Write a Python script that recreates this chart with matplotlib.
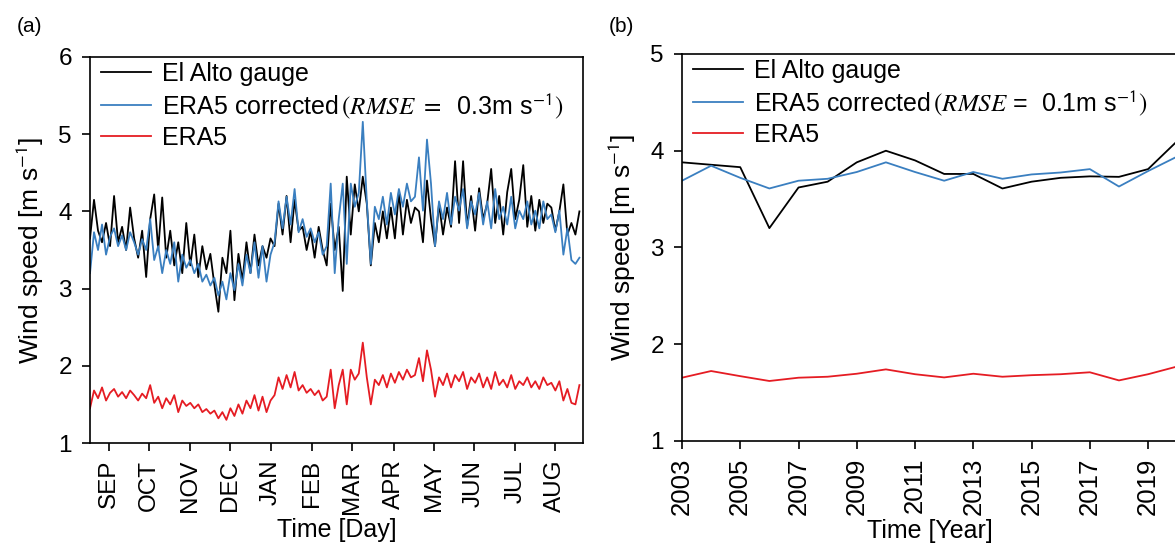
import numpy as np
import matplotlib
matplotlib.use('Agg')
import matplotlib.pyplot as plt

plt.rcParams['font.family'] = ['Liberation Sans', 'DejaVu Sans']
plt.rcParams['mathtext.fontset'] = 'stix'

# ---- panel (a): daily climatology, sampled every 3 days from 16 Aug ----
days = np.arange(0, 367, 3)
gauge_day = [
    3.65, 4.15, 3.75, 3.60, 3.85, 3.55, 4.20, 3.60, 3.80, 3.50, 4.05, 3.65, 3.40, 3.75, 3.15,
    3.90, 4.22, 3.50, 4.18, 3.40, 3.75, 3.30, 3.60, 3.20, 3.85,
    3.30, 3.70, 3.15, 3.55, 3.25, 3.45, 3.05, 2.70, 3.40, 3.20,
    3.75, 2.85, 3.45, 3.10, 3.60, 3.20, 3.70, 3.30, 3.55, 3.40,
    3.65, 3.55, 4.10, 3.70, 4.20, 3.60, 4.15, 3.75, 3.80, 3.50,
    3.75, 3.40, 3.80, 3.50, 3.30, 4.10, 3.50, 3.80, 2.97, 4.45,
    3.70, 4.35, 4.00, 4.45, 4.10, 3.30, 3.85, 3.60, 4.00, 3.65,
    4.05, 3.65, 4.25, 3.70, 4.15, 3.85, 4.05, 4.00, 3.60, 4.40,
    3.90, 3.55, 4.10, 3.70, 4.05, 3.80, 4.65, 3.85, 4.65, 3.80,
    4.20, 3.75, 4.30, 3.90, 4.10, 4.55, 3.85, 4.20, 3.70, 4.25,
    4.55, 3.90, 4.15, 4.60, 3.80, 4.20, 3.75, 4.15, 3.85, 4.10,
    4.05, 3.75, 4.00, 4.35, 3.70, 3.85, 3.70, 4.00,
]
corr_day = [
    3.20, 3.73, 3.50, 3.83, 3.44, 3.67, 3.78, 3.55, 3.69, 3.50, 3.73, 3.60, 3.44, 3.64, 3.50,
    3.90, 3.37, 3.55, 3.20, 3.50, 3.32, 3.60, 3.09, 3.44, 3.27,
    3.37, 3.20, 3.32, 3.09, 3.18, 3.04, 3.14, 2.91, 3.09, 2.86,
    3.20, 2.98, 3.32, 3.04, 3.44, 3.20, 3.60, 3.14, 3.55, 3.09,
    3.44, 3.60, 4.13, 3.78, 4.19, 3.83, 4.29, 3.73, 3.90, 3.67,
    3.78, 3.60, 3.73, 3.44, 3.55, 4.36, 3.20, 3.90, 4.36, 3.32,
    4.36, 4.06, 4.24, 5.16, 4.13, 3.32, 4.06, 3.90, 4.19, 3.83,
    4.24, 3.96, 4.29, 4.06, 4.36, 4.13, 4.19, 4.70, 4.01, 4.93,
    4.36, 3.55, 4.13, 3.90, 4.24, 3.83, 4.19, 4.01, 4.29, 3.78,
    4.13, 3.96, 4.24, 3.83, 4.13, 3.78, 4.29, 3.90, 4.06, 3.83,
    4.19, 3.78, 4.01, 3.90, 4.13, 3.83, 4.01, 3.78, 4.13, 3.90,
    3.96, 3.73, 4.01, 3.44, 3.78, 3.37, 3.32, 3.40,
]
era5_day = [
    1.45, 1.68, 1.58, 1.72, 1.55, 1.65, 1.70, 1.60, 1.66, 1.58, 1.68, 1.62, 1.55, 1.64, 1.58,
    1.75, 1.52, 1.60, 1.45, 1.58, 1.50, 1.62, 1.40, 1.55, 1.48,
    1.52, 1.45, 1.50, 1.40, 1.44, 1.38, 1.42, 1.32, 1.40, 1.30,
    1.45, 1.35, 1.50, 1.38, 1.55, 1.45, 1.62, 1.42, 1.60, 1.40,
    1.55, 1.62, 1.85, 1.70, 1.88, 1.72, 1.92, 1.68, 1.75, 1.65,
    1.70, 1.62, 1.68, 1.55, 1.60, 1.95, 1.45, 1.75, 1.95, 1.50,
    1.95, 1.82, 1.90, 2.30, 1.85, 1.50, 1.82, 1.75, 1.88, 1.72,
    1.90, 1.78, 1.92, 1.82, 1.95, 1.85, 1.88, 2.10, 1.80, 2.20,
    1.95, 1.60, 1.85, 1.75, 1.90, 1.72, 1.88, 1.80, 1.92, 1.70,
    1.85, 1.78, 1.90, 1.72, 1.85, 1.70, 1.92, 1.75, 1.82, 1.72,
    1.88, 1.70, 1.80, 1.75, 1.85, 1.72, 1.80, 1.70, 1.85, 1.75,
    1.78, 1.68, 1.80, 1.55, 1.70, 1.52, 1.50, 1.75,
]
month_days = [14, 44, 75, 105, 135, 166, 196, 227, 257, 287, 318, 348]
month_labels = ['SEP', 'OCT', 'NOV', 'DEC', 'JAN', 'FEB', 'MAR', 'APR', 'MAY', 'JUN', 'JUL', 'AUG']

# ---- panel (b): annual means ----
years = list(range(2003, 2021))
gauge_year = [3.88, 3.855, 3.83, 3.20, 3.62, 3.68, 3.88, 4.00, 3.90, 3.76,
              3.76, 3.61, 3.68, 3.72, 3.735, 3.73, 3.81, 4.10]
corr_year = [3.69, 3.845, 3.72, 3.61, 3.69, 3.71, 3.78, 3.88, 3.78, 3.69,
             3.78, 3.71, 3.755, 3.775, 3.81, 3.63, 3.79, 3.94]
era5_year = [1.654, 1.723, 1.67, 1.62, 1.654, 1.664, 1.695, 1.74, 1.69, 1.657,
             1.695, 1.664, 1.68, 1.69, 1.71, 1.626, 1.69, 1.77]

c_gauge = '#000000'
c_corr = '#3a7fc0'
c_era5 = '#e51c23'
lw = 1.3

fig = plt.figure(figsize=(11.75, 5.48), dpi=100)
ax1 = fig.add_axes([0.0766, 0.1916, 0.4196, 0.7044])
ax2 = fig.add_axes([0.5804, 0.1953, 0.4215, 0.7062])


def style(ax):
    for s in ax.spines.values():
        s.set_linewidth(1.2)
    ax.tick_params(direction='out', length=6, width=1.2)
    ax.tick_params(axis='y', labelsize=17.5, pad=7)
    ax.tick_params(axis='x', pad=6)


ax1.plot(days, gauge_day, color=c_gauge, lw=lw, label='El Alto gauge')
ax1.plot(days, corr_day, color=c_corr, lw=lw,
         label='ERA5 corrected$\\,(RMSE\\ =\\ $ 0.3m s$^{\\mathsf{-1}})$')
ax1.plot(days, era5_day, color=c_era5, lw=lw, label='ERA5')
ax1.set_xlim(0, 368.7)
ax1.set_ylim(1, 6)
ax1.set_yticks([1, 2, 3, 4, 5, 6])
ax1.set_xticks(month_days)
ax1.set_xticklabels(month_labels, rotation=90, fontsize=17.5)
ax1.set_xlabel('Time [Day]', fontsize=18, labelpad=3)
ax1.set_ylabel('Wind speed [m s$^{\\mathsf{-1}}$]', fontsize=19, labelpad=9)
style(ax1)

ax2.plot(years, gauge_year, color=c_gauge, lw=lw, label='El Alto gauge')
ax2.plot(years, corr_year, color=c_corr, lw=lw,
         label='ERA5 corrected$\\,(RMSE$ =  0.1m s$^{\\mathsf{-1}})$')
ax2.plot(years, era5_year, color=c_era5, lw=lw, label='ERA5')
ax2.set_xlim(2003, 2020)
ax2.set_ylim(1, 5)
ax2.set_yticks([1, 2, 3, 4, 5])
ax2.set_xticks(range(2003, 2020, 2))
ax2.tick_params(axis='x', labelrotation=90, labelsize=18.5)
ax2.set_xlabel('Time [Year]', fontsize=18, labelpad=3)
ax2.set_ylabel('Wind speed [m s$^{\\mathsf{-1}}$]', fontsize=19, labelpad=9)
style(ax2)

for ax in (ax1, ax2):
    ax.legend(loc='upper left', bbox_to_anchor=(0.012, 1.0), frameon=False,
              fontsize=18, handlelength=2.0, handletextpad=0.45,
              labelspacing=0.2, borderaxespad=0.1, borderpad=0.1)

fig.text(0.014, 0.952, '(a)', fontsize=15, va='center')
fig.text(0.518, 0.952, '(b)', fontsize=15, va='center')

fig.savefig('out.png', dpi=100)
